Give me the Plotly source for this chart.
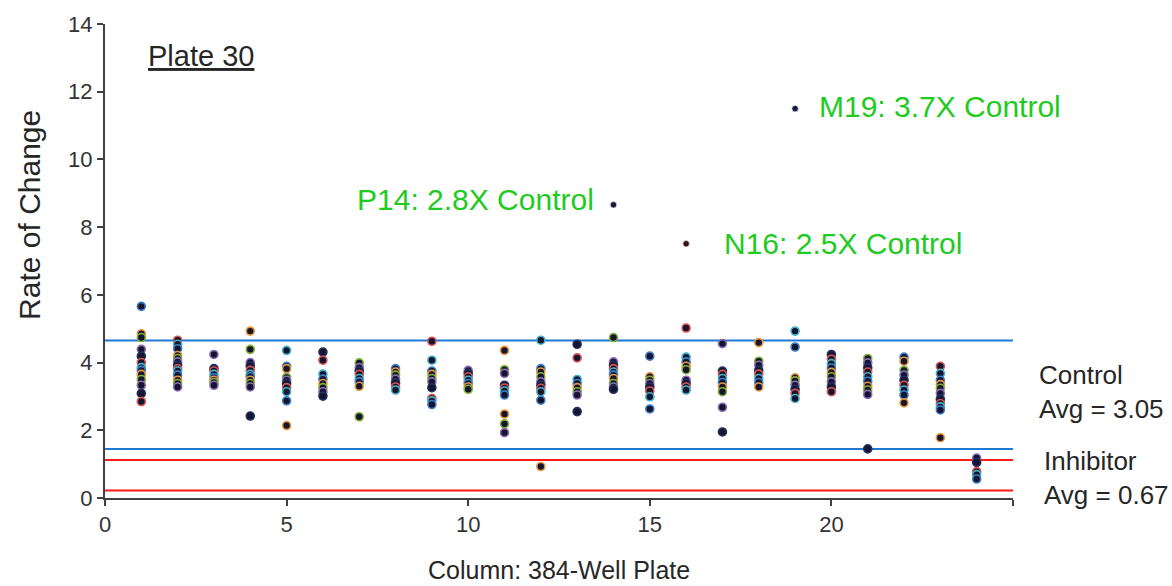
import plotly.graph_objects as go

# ---- data ----
columns = list(range(1, 25))
values = {
    1: [5.66, 4.85, 4.74, 4.39, 4.19, 4.00, 3.85, 3.77, 3.65, 3.50, 3.33, 3.09, 2.85],
    2: [4.66, 4.54, 4.41, 4.21, 4.12, 4.02, 3.92, 3.82, 3.75, 3.63, 3.48, 3.38, 3.28],
    3: [4.24, 3.82, 3.75, 3.65, 3.55, 3.48, 3.41, 3.33],
    4: [4.93, 4.39, 4.00, 3.90, 3.77, 3.65, 3.58, 3.48, 3.38, 3.28, 2.42],
    5: [4.36, 3.89, 3.82, 3.56, 3.48, 3.38, 3.26, 3.14, 2.87, 2.14],
    6: [4.31, 4.07, 3.66, 3.51, 3.38, 3.26, 3.14, 3.01],
    7: [3.99, 3.85, 3.75, 3.65, 3.53, 3.43, 3.30, 2.40],
    8: [3.82, 3.72, 3.63, 3.51, 3.40, 3.28, 3.19],
    9: [4.63, 4.07, 3.75, 3.65, 3.53, 3.43, 3.26, 2.94, 2.87, 2.76],
    10: [3.77, 3.68, 3.58, 3.48, 3.38, 3.28, 3.21],
    11: [4.36, 3.79, 3.68, 3.33, 3.25, 3.16, 3.04, 2.48, 2.19, 1.93],
    12: [4.66, 3.82, 3.72, 3.58, 3.43, 3.33, 3.24, 3.14, 2.89, 0.93],
    13: [4.54, 4.14, 3.50, 3.38, 3.26, 3.14, 3.04, 2.55],
    14: [4.74, 4.02, 3.92, 3.82, 3.72, 3.63, 3.53, 3.38, 3.28, 3.21],
    15: [4.19, 3.58, 3.48, 3.38, 3.28, 3.16, 2.99, 2.63],
    16: [5.02, 4.16, 4.02, 3.89, 3.79, 3.48, 3.38, 3.28, 3.19],
    17: [4.56, 3.75, 3.65, 3.53, 3.41, 3.28, 3.14, 2.68, 1.95],
    18: [4.59, 4.04, 3.92, 3.77, 3.66, 3.53, 3.41, 3.28],
    19: [4.93, 4.46, 3.55, 3.46, 3.33, 3.21, 3.09, 2.94],
    20: [4.24, 4.10, 3.97, 3.84, 3.71, 3.58, 3.43, 3.28, 3.14],
    21: [4.12, 3.99, 3.85, 3.72, 3.58, 3.45, 3.30, 3.19, 3.06, 1.45],
    22: [4.16, 4.04, 3.77, 3.63, 3.48, 3.33, 3.19, 3.04, 2.81],
    23: [3.89, 3.68, 3.48, 3.35, 3.24, 3.09, 2.92, 2.79, 2.69, 2.60, 1.78],
    24: [1.18, 1.05, 0.78, 0.69, 0.56],
}
hit_cols = [14, 16, 19]
hit_vals = [8.66, 7.51, 11.50]
hit_labels = ["P14: 2.8X Control", "N16: 2.5X Control", "M19: 3.7X Control"]

control_avg = 3.05
control_upper = 4.65
control_lower = 1.45
inhib_avg = 0.67
inhib_upper = 1.12
inhib_lower = 0.22

x_ticks = [0, 5, 10, 15, 20, 25]
x_tick_text = ["0", "5", "10", "15", "20", ""]
y_ticks = [0, 2, 4, 6, 8, 10, 12, 14]

# ---- styles ----
ring_palette = ["#7fb03a", "#3f7fc8", "#d9534f", "#8a6bb5", "#e8963a", "#3fb3c9", "#203060"]
dot_fill = "#151530"
font_family = "Arial, Liberation Sans, sans-serif"
green = "#1ecb1e"

xs, ys, rings = [], [], []
for c in columns:
    for i, v in enumerate(values[c]):
        xs.append(c)
        ys.append(v)
        rings.append(ring_palette[(i * 3 + c) % len(ring_palette)])

fig = go.Figure()

# reference lines
for yv, col in [(control_upper, "#1f78d1"), (control_lower, "#1f78d1"),
                (inhib_upper, "#ff1a1a"), (inhib_lower, "#ff1a1a")]:
    fig.add_shape(type="line", xref="x", yref="y", x0=0, x1=25, y0=yv, y1=yv,
                  line=dict(color=col, width=2), layer="below")

fig.add_trace(go.Scatter(
    x=xs, y=ys, mode="markers",
    marker=dict(size=8, color=dot_fill, line=dict(color=rings, width=1.6)),
    showlegend=False, hoverinfo="x+y", cliponaxis=False,
))
fig.add_trace(go.Scatter(
    x=hit_cols, y=hit_vals, mode="markers",
    marker=dict(size=6.5, color=["#1a1a40", "#3a1010", "#1a1a40"],
                line=dict(color="#e6e6f0", width=0.8)),
    showlegend=False, hoverinfo="x+y",
))

annotations = []
# hit labels
label_pos = [(6.87, 8.83), (17.0, 7.51), (19.61, 11.57)]
for (lx, ly), t in zip(label_pos, hit_labels):
    annotations.append(dict(x=lx, y=ly, xref="x", yref="y", text=t, showarrow=False,
                            xanchor="left", yanchor="middle",
                            font=dict(family=font_family, size=30, color=green)))
annotations.append(dict(x=1.12, y=13.05, xref="x", yref="y", text="<u>Plate 30</u>",
                        showarrow=False, xanchor="left", yanchor="middle",
                        font=dict(family=font_family, size=29, color="#262626")))
annotations.append(dict(x=1.026, y=3.12, xref="paper", yref="y",
                        text=f"Control<br>Avg = {control_avg:.2f}",
                        showarrow=False, xanchor="left", yanchor="middle", align="left",
                        font=dict(family=font_family, size=26, color="#262626")))
annotations.append(dict(x=1.032, y=0.6, xref="paper", yref="y",
                        text=f"Inhibitor<br>Avg = {inhib_avg:.2f}",
                        showarrow=False, xanchor="left", yanchor="middle", align="left",
                        font=dict(family=font_family, size=26, color="#262626")))
annotations.append(dict(x=-0.083, y=8.35, xref="paper", yref="y", text="Rate of Change",
                        textangle=-90, showarrow=False, xanchor="center", yanchor="middle",
                        font=dict(family=font_family, size=30, color="#262626")))
annotations.append(dict(x=0.5, y=-0.152, xref="paper", yref="paper",
                        text="Column: 384-Well Plate",
                        showarrow=False, xanchor="center", yanchor="middle",
                        font=dict(family=font_family, size=25, color="#262626")))

fig.update_layout(
    width=1172, height=586,
    margin=dict(l=105, r=159, t=22, b=88),
    plot_bgcolor="white", paper_bgcolor="white",
    annotations=annotations,
    font=dict(family=font_family),
)
fig.update_xaxes(range=[0, 25], tickvals=x_ticks, ticktext=x_tick_text,
                 showgrid=False, zeroline=False, showline=True, linecolor="#404040",
                 linewidth=2, ticks="outside", ticklen=6, tickwidth=2, tickcolor="#404040",
                 tickfont=dict(family=font_family, size=22, color="#333333"))
fig.update_yaxes(range=[0, 14], tickvals=y_ticks,
                 showgrid=False, zeroline=False, showline=True, linecolor="#404040",
                 linewidth=2, ticks="outside", ticklen=6, tickwidth=2, tickcolor="#404040",
                 tickfont=dict(family=font_family, size=22, color="#333333"))

fig.write_html("out.html", config={"displayModeBar": False})

# remove the browser's default page margin so the figure sits at the window's corner
with open("out.html", "r", encoding="utf-8") as f:
    html = f.read()
html = html.replace("<body>", '<body style="margin:0;padding:0;overflow:hidden">', 1)
with open("out.html", "w", encoding="utf-8") as f:
    f.write(html)
